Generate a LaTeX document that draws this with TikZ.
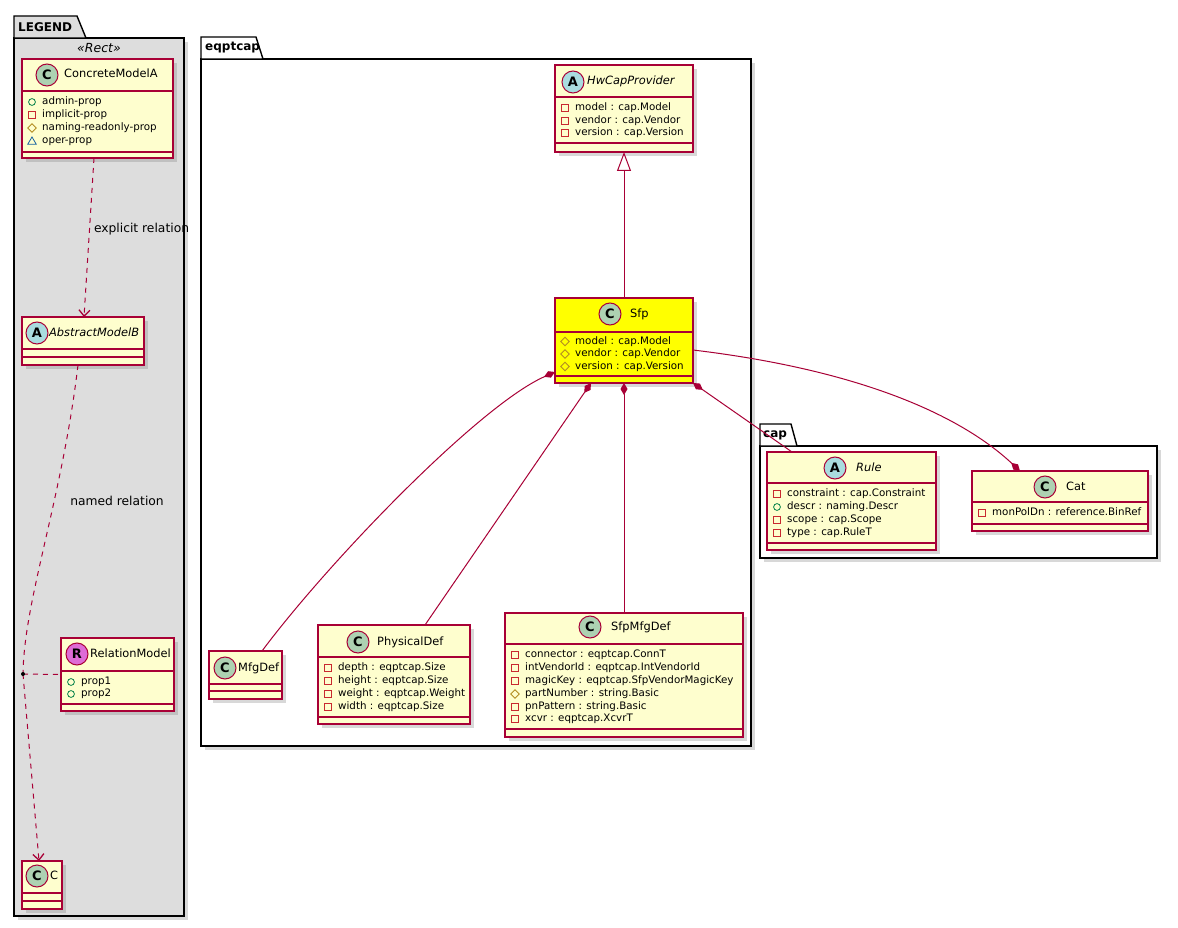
\documentclass[tikz,border=0pt]{standalone}
\usepackage{fontspec}
\setmainfont{DejaVu Sans}
\usetikzlibrary{arrows.meta,shadows}
\definecolor{umlred}{HTML}{A80036}
\definecolor{umlfill}{HTML}{FEFECE}
\definecolor{legendgray}{HTML}{DDDDDD}
\definecolor{iconC}{HTML}{ADD1B2}
\definecolor{iconA}{HTML}{A9DCDF}
\definecolor{iconR}{HTML}{DE6BD6}
\definecolor{privcol}{HTML}{C82930}
\definecolor{pubcol}{HTML}{038048}
\definecolor{protcol}{HTML}{B38D22}
\definecolor{pkgcol}{HTML}{1963A0}
\definecolor{sfpyellow}{HTML}{FFFF00}
\newcounter{mbrc}
\newcommand\vispriv[2]{\draw[privcol,line width=0.8pt] ({#1+10-3.3},{#2-3.3}) rectangle ({#1+10+3.3},{#2+3.3});}
\newcommand\vispub[2]{\draw[pubcol,line width=0.8pt] ({#1+10},#2) circle[radius=3.4];}
\newcommand\visprot[2]{\draw[protcol,line width=0.8pt] ({#1+10},{#2-4.3}) -- ({#1+14.3},#2) -- ({#1+10},{#2+4.3}) -- ({#1+5.7},#2) -- cycle;}
\newcommand\vispkg[2]{\draw[pkgcol,line width=0.8pt] ({#1+5.7},{#2+3.3}) -- ({#1+14.3},{#2+3.3}) -- ({#1+10},{#2-4}) -- cycle;}
\newcommand\mbr[4]{%
  \stepcounter{mbrc}\edef\mbrname{mbr\arabic{mbrc}}%
  \csname vis#1\endcsname{#2}{#3}%
  \node[mtext] (\mbrname) at ({#2+20},#3) {#4};}
\begin{document}
\begin{tikzpicture}[x=1pt,y=-1pt,
  pkgbox/.style={draw=black,line width=1.4pt,inner sep=0,outer sep=0,anchor=north west,
    drop shadow={shadow xshift=4pt,shadow yshift=-4pt,opacity=0.3}},
  pkgtab/.style={draw=black,line width=1.4pt,line join=miter},
  pkgtext/.style={font=\fontsize{12}{14}\bfseries,anchor=west,inner sep=0},
  clsbox/.style={draw=umlred,line width=1.1pt,fill=umlfill,inner sep=0,outer sep=0,anchor=north west,
    drop shadow={shadow xshift=4pt,shadow yshift=-4pt,opacity=0.3}},
  clsline/.style={draw=umlred,line width=1.1pt},
  iconc/.style={circle,draw=umlred,line width=1pt,minimum size=22pt,inner sep=0,
    font=\fontsize{13}{13}\bfseries},
  cname/.style={font=\fontsize{11.4}{13}\selectfont,anchor=west,inner sep=0,text height=8.5pt,text depth=2.5pt},
  mtext/.style={font=\fontsize{10.3}{12}\selectfont,anchor=west,inner sep=0,text height=7.5pt,text depth=2pt},
  lbl/.style={font=\fontsize{12.3}{14}\selectfont,inner sep=0},
  assoc/.style={draw=umlred,line width=1pt},
  comp/.style={assoc},
  dep/.style={draw=umlred,line width=1pt,dash pattern=on 5pt off 5pt},
  deptip/.style={-{Straight Barb[length=6pt,width=11pt,line width=1.3pt]}},
]
\useasboundingbox (0,0) rectangle (1178,928);
\fill[white] (0,0) rectangle (1178,928);

% ---------------- packages ----------------
\node[pkgbox,fill=legendgray,minimum width=170pt,minimum height=878pt] (legend) at (14,38) {};
\draw[pkgtab,fill=legendgray] (14,38) -- (14,16) -- (77,16) -- (86,38) -- cycle;
\node[pkgtext] (legendtab) at (18,27) {LEGEND};
\node[font=\fontsize{12.5}{14}\itshape,inner sep=0] (stereo) at (99,48) {«Rect»};

\node[pkgbox,fill=white,minimum width=550pt,minimum height=687pt] (eqptcap) at (201,59) {};
\draw[pkgtab,fill=white] (201,59) -- (201,37) -- (256,37) -- (263,59) -- cycle;
\node[pkgtext] (eqptcaptab) at (205,48) {eqptcap};

\node[pkgbox,fill=white,minimum width=397pt,minimum height=112pt] (cap) at (760,446) {};
\draw[pkgtab,fill=white] (760,446) -- (760,424) -- (791,424) -- (797,446) -- cycle;
\node[pkgtext] (captab) at (763,435) {cap};

% ---------------- legend classes ----------------
% ConcreteModelA
\node[clsbox,minimum width=151pt,minimum height=99pt] (cma) at (22,59) {};
\draw[clsline] (22,91) -- (173,91);
\draw[clsline] (22,152) -- (173,152);
\node[iconc,fill=iconC] (cmaicon) at (47,75) {C};
\node[cname] (cmaname) at (64,75) {ConcreteModelA};
\mbr{pub}{22}{102}{admin-prop}
\mbr{priv}{22}{115}{implicit-prop}
\mbr{prot}{22}{128}{naming-readonly-prop}
\mbr{pkg}{22}{141}{oper-prop}

% AbstractModelB
\node[clsbox,minimum width=122pt,minimum height=48pt] (amb) at (22,317) {};
\draw[clsline] (22,349) -- (144,349);
\draw[clsline] (22,357) -- (144,357);
\node[iconc,fill=iconA] (ambicon) at (37,333) {A};
\node[cname,font=\fontsize{11.4}{13}\itshape] (ambname) at (49,333) {AbstractModelB};

% RelationModel
\node[clsbox,minimum width=113pt,minimum height=73pt] (rm) at (61,638) {};
\draw[clsline] (61,671) -- (174,671);
\draw[clsline] (61,704) -- (174,704);
\node[iconc,fill=iconR] (rmicon) at (77,654) {R};
\node[cname] (rmname) at (90,654) {RelationModel};
\mbr{pub}{61}{682}{prop1}
\mbr{pub}{61}{694}{prop2}

% C
\node[clsbox,minimum width=40pt,minimum height=48pt] (cc) at (22,861) {};
\draw[clsline] (22,893) -- (62,893);
\draw[clsline] (22,901) -- (62,901);
\node[iconc,fill=iconC] (ccicon) at (37,876) {C};
\node[cname] (ccname) at (50,876) {C};

% ---------------- eqptcap classes ----------------
% HwCapProvider
\node[clsbox,minimum width=138pt,minimum height=87pt] (hw) at (555,65) {};
\draw[clsline] (555,97) -- (693,97);
\draw[clsline] (555,143) -- (693,143);
\node[iconc,fill=iconA] (hwicon) at (573,82) {A};
\node[cname,font=\fontsize{11.4}{13}\itshape] (hwname) at (587,82) {HwCapProvider};
\mbr{priv}{555}{108}{model : cap.Model}
\mbr{priv}{555}{121}{vendor : cap.Vendor}
\mbr{priv}{555}{133}{version : cap.Version}

% Sfp
\node[clsbox,fill=sfpyellow,minimum width=138pt,minimum height=85pt] (sfp) at (555,298) {};
\draw[clsline] (555,332) -- (693,332);
\draw[clsline] (555,376) -- (693,376);
\node[iconc,fill=iconC] (sfpicon) at (610,314) {C};
\node[cname] (sfpname) at (630,314) {Sfp};
\mbr{prot}{555}{341.5}{model : cap.Model}
\mbr{prot}{555}{354}{vendor : cap.Vendor}
\mbr{prot}{555}{366.5}{version : cap.Version}

% MfgDef
\node[clsbox,minimum width=73pt,minimum height=48pt] (mfg) at (209,651) {};
\draw[clsline] (209,684) -- (282,684);
\draw[clsline] (209,691) -- (282,691);
\node[iconc,fill=iconC] (mfgicon) at (225,668) {C};
\node[cname] (mfgname) at (238,668) {MfgDef};

% PhysicalDef
\node[clsbox,minimum width=152pt,minimum height=99pt] (phys) at (318,625) {};
\draw[clsline] (318,657) -- (470,657);
\draw[clsline] (318,717) -- (470,717);
\node[iconc,fill=iconC] (physicon) at (358,642) {C};
\node[cname] (physname) at (377,642) {PhysicalDef};
\mbr{priv}{318}{668}{depth : eqptcap.Size}
\mbr{priv}{318}{681}{height : eqptcap.Size}
\mbr{priv}{318}{694}{weight : eqptcap.Weight}
\mbr{priv}{318}{707}{width : eqptcap.Size}

% SfpMfgDef
\node[clsbox,minimum width=238pt,minimum height=124pt] (sfpmfg) at (505,613) {};
\draw[clsline] (505,644) -- (743,644);
\draw[clsline] (505,729) -- (743,729);
\node[iconc,fill=iconC] (sfpmfgicon) at (590,627) {C};
\node[cname] (sfpmfgname) at (611,627) {SfpMfgDef};
\mbr{priv}{505}{655}{connector : eqptcap.ConnT}
\mbr{priv}{505}{668}{intVendorId : eqptcap.IntVendorId}
\mbr{priv}{505}{681}{magicKey : eqptcap.SfpVendorMagicKey}
\mbr{prot}{505}{694}{partNumber : string.Basic}
\mbr{priv}{505}{707}{pnPattern : string.Basic}
\mbr{priv}{505}{719}{xcvr : eqptcap.XcvrT}

% ---------------- cap classes ----------------
% Rule
\node[clsbox,minimum width=169pt,minimum height=98pt] (rule) at (767,452) {};
\draw[clsline] (767,483) -- (936,483);
\draw[clsline] (767,543) -- (936,543);
\node[iconc,fill=iconA] (ruleicon) at (835,468) {A};
\node[cname,font=\fontsize{11.4}{13}\itshape] (rulename) at (856,468) {Rule};
\mbr{priv}{767}{494}{constraint : cap.Constraint}
\mbr{pub}{767}{507}{descr : naming.Descr}
\mbr{priv}{767}{520}{scope : cap.Scope}
\mbr{priv}{767}{533}{type : cap.RuleT}

% Cat
\node[clsbox,minimum width=176pt,minimum height=60pt] (cat) at (972,471) {};
\draw[clsline] (972,502) -- (1148,502);
\draw[clsline] (972,524) -- (1148,524);
\node[iconc,fill=iconC] (caticon) at (1045,487) {C};
\node[cname] (catname) at (1066,487) {Cat};
\mbr{priv}{972}{513}{monPolDn : reference.BinRef}

% ---------------- connectors ----------------
% legend
\draw[dep,deptip] ([xshift=72pt]cma.south west) -- ([xshift=62pt]amb.north west)
  node[pos=0.45,lbl,anchor=west,xshift=4pt] (lblexp) {explicit relation};
\coordinate (reldot) at (23,674);
\draw[dep] ([xshift=56pt]amb.south west) .. controls (62,500) and (24,600) .. (reldot);
\draw[dep,deptip] (reldot) -- ([xshift=17pt]cc.north west);
\node[lbl] (lblnamed) at (117,501) {named relation};
\draw[dep] (reldot) -- (rm.west);
\fill[black] (reldot) circle[radius=2];

% eqptcap
\draw[assoc,-{Triangle[length=19pt,width=14pt,fill=white]}] (sfp.north) -- (hw.south);
\draw[comp,{Diamond[length=12pt,width=7pt]}-] ([yshift=11pt]sfp.south west) .. controls (480,405) and (330,560) .. ([xshift=53pt]mfg.north west);
\draw[comp,{Diamond[length=12pt,width=7pt]}-] ([xshift=36pt]sfp.south west) -- ([xshift=107pt]phys.north west);
\draw[comp,{Diamond[length=12pt,width=7pt]}-] (sfp.south) -- (sfpmfg.north);
\draw[comp,{Diamond[length=12pt,width=7pt]}-] (sfp.south east) -- ([xshift=25pt]rule.north west);
\draw[comp,-{Diamond[length=12pt,width=7pt]}] ([yshift=-52pt]sfp.north east) .. controls (860,370) and (960,415) .. ([xshift=48pt]cat.north west);
\end{tikzpicture}
\end{document}
